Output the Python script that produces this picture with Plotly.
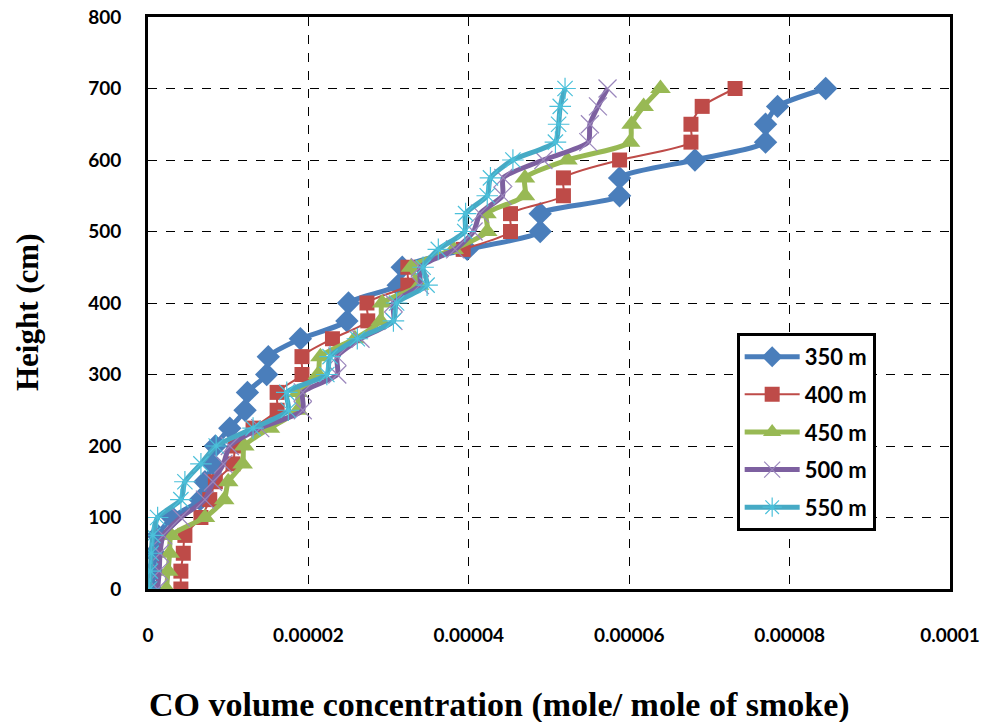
import plotly.graph_objects as go

heights = [0, 25, 50, 75, 100, 125, 150, 175, 200, 225, 250, 275, 300, 325, 350,
           375, 400, 425, 450, 475, 500, 525, 550, 575, 600, 625, 650, 675, 700]

# CO volume concentration (x 1e-5 mole/mole of smoke)
co_350 = [0.05, 0.06, 0.08, 0.12, 0.30, 0.65, 0.71, 0.81, 0.84, 1.02, 1.21, 1.24, 1.48, 1.50, 1.90,
          2.48, 2.50, 3.12, 3.17, 3.98, 4.89, 4.89, 5.88, 5.88, 6.82, 7.70, 7.70, 7.85, 8.45]
co_400 = [0.41, 0.41, 0.44, 0.46, 0.66, 0.77, 0.84, 1.06, 1.09, 1.31, 1.61, 1.61, 1.92, 1.92, 2.30,
          2.74, 2.73, 3.24, 3.24, 3.93, 4.52, 4.52, 5.18, 5.18, 5.88, 6.77, 6.77, 6.91, 7.32]
co_450 = [0.23, 0.25, 0.27, 0.29, 0.71, 0.95, 1.00, 1.18, 1.20, 1.52, 1.87, 1.87, 2.12, 2.15, 2.58,
          2.90, 2.92, 3.38, 3.28, 3.81, 4.23, 4.22, 4.70, 4.70, 5.23, 6.01, 6.03, 6.18, 6.39]
co_500 = [0.12, 0.14, 0.15, 0.19, 0.41, 0.71, 0.81, 0.94, 1.02, 1.40, 1.93, 1.93, 2.36, 2.36, 2.65,
          3.06, 3.06, 3.39, 3.39, 3.83, 4.06, 4.14, 4.42, 4.43, 4.93, 5.49, 5.51, 5.61, 5.73]
co_550 = [0.02, 0.03, 0.04, 0.06, 0.12, 0.41, 0.46, 0.66, 0.85, 1.31, 1.75, 1.73, 2.23, 2.27, 2.61,
          3.06, 3.10, 3.48, 3.43, 3.62, 3.95, 3.96, 4.23, 4.27, 4.55, 5.08, 5.12, 5.14, 5.20]

series_names = ["350 m", "400 m", "450 m", "500 m", "550 m"]
x_tickvals = [0, 0.00002, 0.00004, 0.00006, 0.00008, 0.0001]
x_ticktext = ["0", "0.00002", "0.00004", "0.00006", "0.00008", "0.0001"]
y_tickvals = [0, 100, 200, 300, 400, 500, 600, 700, 800]

styles = [
    dict(color="#4A7EBB", lw=5, sym="diamond", size=18, mcolor="#4A7EBB", mline=0),
    dict(color="#BE4B48", lw=2, sym="square", size=15, mcolor="#BE4B48", mline=0),
    dict(color="#98B954", lw=5, sym="triangle-up", size=18, mcolor="#98B954", mline=0),
    dict(color="#7D60A0", lw=5, sym="x-thin-open", size=18, mcolor="#9A86BC", mline=1.2),
    dict(color="#46AAC5", lw=5, sym="asterisk-open", size=18, mcolor="#4BC0DA", mline=1.2),
]

fig = go.Figure()
for name, vals, st in zip(series_names, [co_350, co_400, co_450, co_500, co_550], styles):
    fig.add_trace(go.Scatter(
        x=[v * 1e-5 for v in vals], y=heights, name=name, mode="lines+markers",
        legendgroup=name,
        line=dict(color=st["color"], width=st["lw"], shape="spline", smoothing=0.6),
        marker=dict(symbol=st["sym"], size=st["size"], color=st["mcolor"],
                    line=dict(width=st["mline"], color=st["mcolor"])),
    ))

tick_font = dict(family="Lato, Carlito, Arial", size=19, color="black", weight="bold")
fig.update_layout(
    width=998, height=722,
    paper_bgcolor="white", plot_bgcolor="white",
    margin=dict(l=148, r=48, t=17, b=133, autoexpand=False),
    showlegend=True,
    legend=dict(x=0.734, y=0.4476, xanchor="left", yanchor="top",
                bgcolor="white", bordercolor="black", borderwidth=3,
                font=dict(family="Lato, Carlito, Arial", size=22, color="black", weight="bold"),
                tracegroupgap=6, itemwidth=55),
    xaxis=dict(range=[0, 0.0001], tickvals=x_tickvals, ticktext=x_ticktext,
               showgrid=True, gridcolor="black", griddash="dash", gridwidth=1,
               showline=True, linecolor="black", linewidth=3, mirror=True,
               zeroline=False, ticks="", tickfont=tick_font, automargin=False,
               ticklabelstandoff=27),
    yaxis=dict(range=[0, 800], tickvals=y_tickvals,
               showgrid=True, gridcolor="black", griddash="dash", gridwidth=1,
               showline=True, linecolor="black", linewidth=3, mirror=True,
               zeroline=False, ticks="", tickfont=tick_font, automargin=False,
               ticklabelstandoff=20),
    annotations=[
        dict(text="<b>CO volume concentration (mole/ mole of smoke)</b>",
             xref="paper", yref="paper", x=0.4377, y=-0.2028, xanchor="center", yanchor="middle",
             showarrow=False, font=dict(family="Liberation Serif, Times New Roman", size=34, color="black")),
        dict(text="<b>Height (cm)</b>", textangle=-90,
             xref="paper", yref="paper", x=-0.151, y=0.484, xanchor="center", yanchor="middle",
             showarrow=False, font=dict(family="Liberation Serif, Times New Roman", size=31, color="black")),
    ],
)

fig.write_html("out.html", config={"displayModeBar": False},
               post_script="document.body.style.margin='0';document.body.style.overflow='hidden';")
